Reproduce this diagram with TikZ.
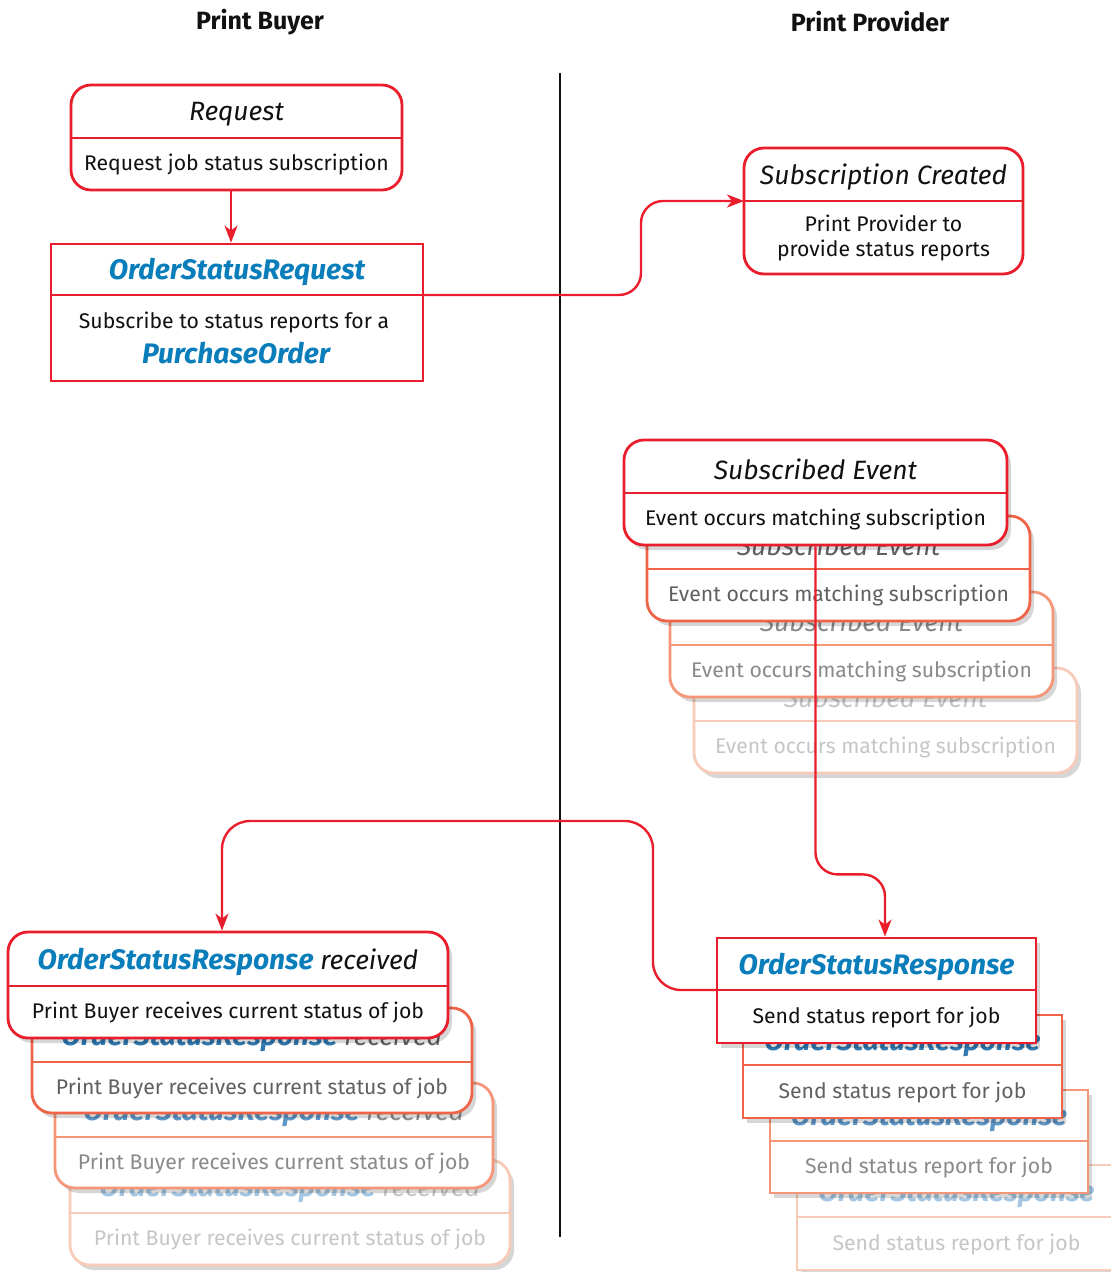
\documentclass[tikz,border=0pt]{standalone}
\usepackage{fontspec}
\setmainfont{Fira Sans}
\usetikzlibrary{arrows.meta,shadows,calc}
\definecolor{red1}{HTML}{EA1D2C}
\definecolor{red2}{HTML}{EF6449}
\definecolor{red3}{HTML}{F49677}
\definecolor{red4}{HTML}{F8CBB8}
\definecolor{blue1}{HTML}{0A7EBB}
\definecolor{blue2}{HTML}{2F78B0}
\definecolor{blue3}{HTML}{5C95C6}
\definecolor{blue4}{HTML}{A4C6E2}
\definecolor{txt1}{HTML}{111111}
\definecolor{txt2}{HTML}{606060}
\definecolor{txt3}{HTML}{8A8A8A}
\definecolor{txt4}{HTML}{C6C6C6}
\newcommand\ttlfont{\fontsize{26.5}{30}\selectfont\itshape}
\newcommand\bttl{\fontsize{28.2}{30}\selectfont\bfseries}
\newcommand\bodyfont{\fontsize{21.2}{25}\selectfont}
\def\bc{red1}\def\tc{txt1}\def\bl{blue1}
% #1 name #2 x1 #3 y1 #4 x2 #5 y2 #6 ydiv #7 style #8 title #9 body
\newcommand\mkbox[9]{%
  \node[#7, draw=\bc, minimum width={(#4-#2)*1pt}, minimum height={(#5-#3)*1pt}] (#1) at ({(#2+#4)/2},{(#3+#5)/2}) {};
  \coordinate (#1-dl) at (#2,#6);
  \coordinate (#1-dr) at (#4,#6);
  \draw[draw=\bc, line width=2.6pt] (#1-dl) -- (#1-dr);
  \node[txt, text=\tc, font=\ttlfont] (#1-t) at ({(#2+#4)/2},{(#3+#6)/2+2.5}) {#8};
  \node[txt, text=\tc, font=\bodyfont] (#1-b) at ({(#2+#4)/2},{(#6+#5)/2+0.5}) {#9};
}
\tikzset{
  rbox/.style={rectangle, rounded corners=20pt, fill=white, line width=2.8pt, inner sep=0pt},
  sbox/.style={rectangle, fill=white, line width=2.8pt, inner sep=0pt},
  shad/.style={drop shadow={shadow xshift=4pt, shadow yshift=-5pt, opacity=.16, fill=black}},
  txt/.style={inner sep=0pt, align=center},
  conn/.style={draw=red1, line width=2.4pt, -{Stealth[length=17pt, width=13pt, inset=5pt]}},
  head/.style={font=\fontsize{25}{29}\selectfont\bfseries, text=txt1},
}
\begin{document}
\begin{tikzpicture}[x=1pt, y=-1pt]
\useasboundingbox[fill=white] (0,0) rectangle (1111,1272);
% headers and divider
\node[head] (hbuyer) at (260,22) {Print Buyer};
\node[head] (hprov) at (870,22) {Print Provider};
\coordinate (vtop) at (560,73);
\coordinate (vbot) at (560,1237);
\draw[line width=2pt, draw=txt1] (vtop) -- (vbot);

% Request
\mkbox{req}{71}{85}{402}{190}{138}{rbox}{Request}{Request job status subscription}
% OrderStatusRequest
\mkbox{osreq}{51}{244}{423}{381}{295}{sbox}{{\bttl\color{blue1}OrderStatusRequest}}{}
\node[txt, text=txt1, font=\bodyfont] (osreq-b1) at (234,322) {Subscribe to status reports for a};
\node[txt, font=\ttlfont\bttl, text=blue1] (osreq-b2) at (236,353) {PurchaseOrder};
% Subscription Created
\mkbox{subc}{744}{148}{1023}{274}{201}{rbox}{Subscription Created}{Print Provider to\\provide status reports}

% Subscribed Event stack
\def\bc{red4}\def\tc{txt4}
\mkbox{subev4}{694}{668}{1077}{773}{721}{rbox,shad}{Subscribed Event}{Event occurs matching subscription}
\def\bc{red3}\def\tc{txt3}
\mkbox{subev3}{670}{592}{1053}{697}{645}{rbox,shad}{Subscribed Event}{Event occurs matching subscription}
\def\bc{red2}\def\tc{txt2}
\mkbox{subev2}{647}{516}{1030}{621}{569}{rbox,shad}{Subscribed Event}{Event occurs matching subscription}
\def\bc{red1}\def\tc{txt1}
\mkbox{subev}{624}{440}{1007}{545}{493}{rbox,shad}{Subscribed Event}{Event occurs matching subscription}

% OrderStatusResponse stack
\def\bc{red4}\def\tc{txt4}
\mkbox{osr4}{797}{1165}{1116}{1270}{1217}{sbox,shad}{{\bttl\color{blue4}OrderStatusResponse}}{Send status report for job}
\def\bc{red3}\def\tc{txt3}
\mkbox{osr3}{770}{1090}{1088}{1193}{1141}{sbox,shad}{{\bttl\color{blue3}OrderStatusResponse}}{Send status report for job}
\def\bc{red2}\def\tc{txt2}
\mkbox{osr2}{743}{1015}{1062}{1118}{1065}{sbox,shad}{{\bttl\color{blue2}OrderStatusResponse}}{Send status report for job}
\def\bc{red1}\def\tc{txt1}
\mkbox{osr}{717}{938}{1036}{1043}{990}{sbox,shad}{{\bttl\color{blue1}OrderStatusResponse}}{Send status report for job}

% OrderStatusResponse received stack
\def\bc{red4}\def\tc{txt4}
\mkbox{osrr4}{70}{1160}{510}{1265}{1213}{rbox,shad}{{\bttl\color{blue4}OrderStatusResponse} received}{Print Buyer receives current status of job}
\def\bc{red3}\def\tc{txt3}
\mkbox{osrr3}{55}{1083}{493}{1188}{1137}{rbox,shad}{{\bttl\color{blue3}OrderStatusResponse} received}{Print Buyer receives current status of job}
\def\bc{red2}\def\tc{txt2}
\mkbox{osrr2}{32}{1008}{472}{1113}{1062}{rbox,shad}{{\bttl\color{blue2}OrderStatusResponse} received}{Print Buyer receives current status of job}
\def\bc{red1}\def\tc{txt1}
\mkbox{osrr}{8}{932}{448}{1038}{986}{rbox,shad}{{\bttl\color{blue1}OrderStatusResponse} received}{Print Buyer receives current status of job}

% connectors
\draw[conn] ([xshift=-5.5pt]req.south) -- ([xshift=-5.5pt]req.south |- osreq.north);
\draw[conn, rounded corners=22pt] (osreq-dr) -- ++(218,0) |- (subc-dl);
\draw[conn, rounded corners=22pt] (subev.south) -- ++(0,328) -| ([xshift=8.5pt]osr.north);
\draw[conn, rounded corners=28pt] (osr-dl) -- ++(-64,0) -- ++(0,-169) -| ([xshift=-6pt]osrr.north);
\end{tikzpicture}
\end{document}
